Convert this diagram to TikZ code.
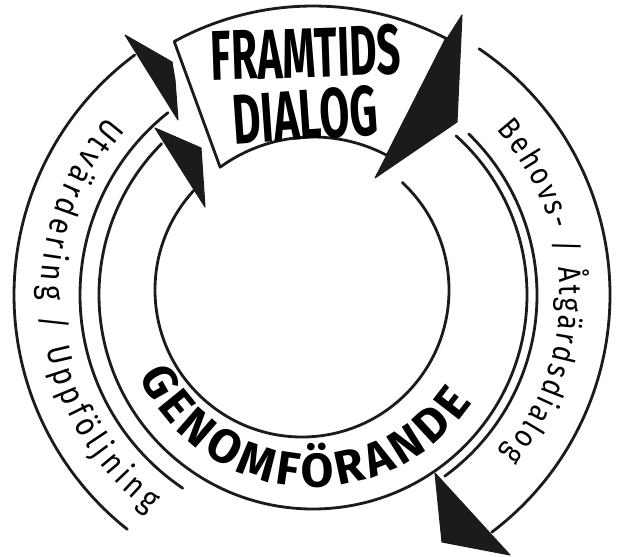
\documentclass[tikz,border=0pt]{standalone}
\usepackage{fontspec}
\setmainfont{Fira Sans}
\newfontfamily\handfont[FakeStretch=0.85]{Fira Sans}
\usepackage{graphicx}
\usepackage{tikz}
\usetikzlibrary{decorations.text}
\definecolor{ink}{RGB}{27,27,29}

\begin{document}
\begin{tikzpicture}[x=0.02cm, y=0.02cm,
    ring/.style={line width=1.6pt, draw=ink, line cap=round},
    head/.style={fill=ink, draw=ink, line width=0.6pt, line join=round}]
  \useasboundingbox (0,0) rectangle (618,-557);
  % one unit = one pixel of the sketch, y runs downwards
  \coordinate (c) at (313,-295);
  % inner circle (own centre), open at the top
  \draw[ring] ([shift={(302,-290)}]47:147) arc[start angle=47, end angle=-223, radius=147];
  \begin{scope}[shift={(c)}]
    % Genomförande band, outer edge
    \draw[ring] (48:214) arc[start angle=48, end angle=-225, radius=214];
    % Behovs-/Åtgärdsdialog band
    \draw[ring] (46:224) arc[start angle=46, end angle=-54, radius=224];
    \draw[ring] (56:297) arc[start angle=56, end angle=-53, radius=297];
    % Utvärdering/Uppföljning band
    \draw[ring] (128.5:233) arc[start angle=128.5, end angle=236, radius=233];
    \draw[ring] (126.6:299) arc[start angle=126.6, end angle=231.6, radius=299];
    % Framtidsdialog box
    \draw[ring, line join=round] (118.7:289) arc[start angle=118.7, end angle=62.5, radius=289]
      -- (62:158) arc[start angle=62, end angle=126, radius=158] -- cycle;
    % band texts
    \path[decorate, decoration={text along path, text align=fit to path,
      text={|\fontsize{27}{30}\selectfont\bfseries|GENOMFÖRANDE}}]
      (205:192) arc[start angle=205, end angle=326, radius=192];
    \path[decorate, decoration={text along path, text align=fit to path,
      text={|\handfont\fontsize{19}{23}\selectfont|Utvärdering / Uppföljning}}]
      (139:272) arc[start angle=139, end angle=233, radius=272];
    \path[decorate, decoration={text along path, text align=fit to path,
      text={|\handfont\fontsize{18}{22}\selectfont|Behovs- / Åtgärdsdialog}}]
      (42:247) arc[start angle=42, end angle=-40, radius=247];
  \end{scope}
  \node[rotate=2] (framtids) at (306,-53) {\resizebox{3.8cm}{1.0cm}{\bfseries FRAMTIDS}};
  \node[rotate=4] (dialog) at (305,-115) {\resizebox{2.9cm}{1.0cm}{\bfseries DIALOG}};
  % arrow heads
  \path[head] (125,-35) -- (172,-62) -- (175,-80) -- (178,-120) -- cycle;
  \path[head] (155,-128) -- (201,-148) -- (205,-207) -- cycle;
  \path[head] (448,-37) -- (462,-15) -- (457,-122) -- (375,-178) -- cycle;
  \path[head] (435,-473) -- (442,-542) -- (510,-555) -- cycle;
\end{tikzpicture}
\end{document}
